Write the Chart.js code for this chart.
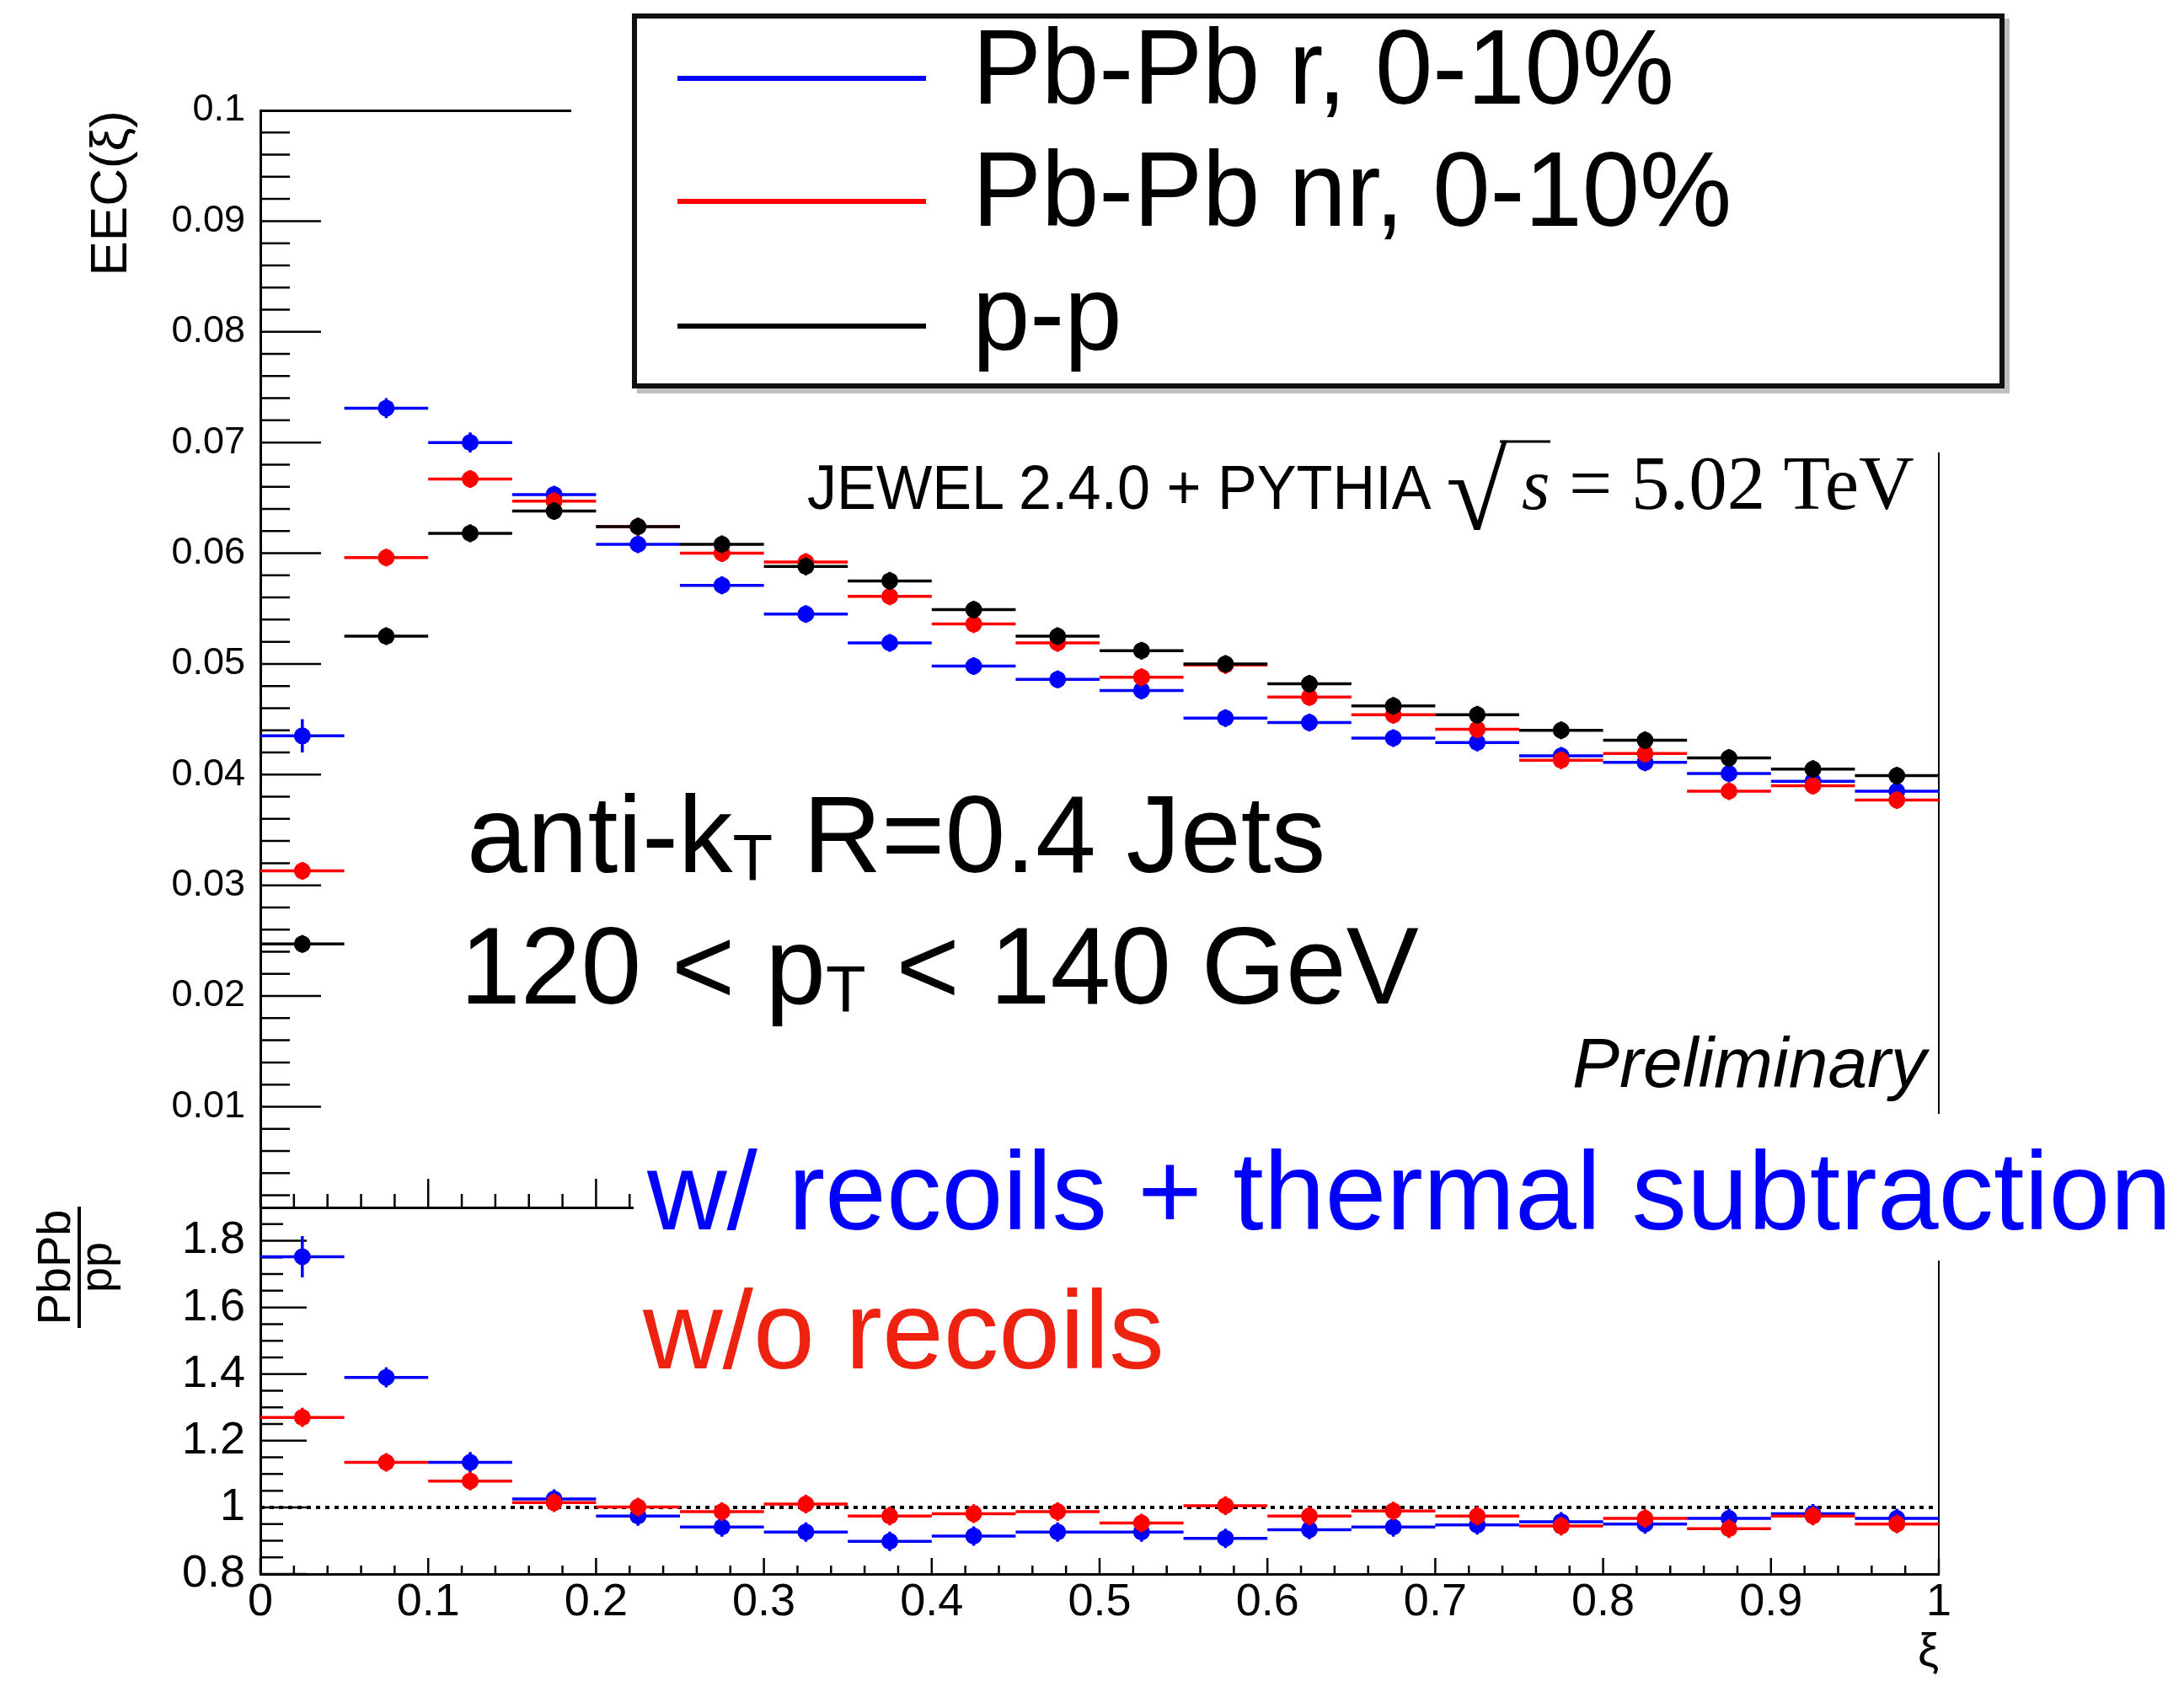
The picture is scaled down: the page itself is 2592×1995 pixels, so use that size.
<!DOCTYPE html>
<html lang="en">
<head>
<meta charset="UTF-8" />
<title>EEC(ξ) JEWEL Pb-Pb / p-p</title>
<script src="https://cdn.jsdelivr.net/npm/chart.js"></script>
<style>
  html, body { margin: 0; padding: 0; background: #fff; }
  #page { position: relative; width: 2592px; height: 1995px; overflow: hidden; background: #fff; }
  canvas { position: absolute; left: 0; }
  #topChart { top: 0; }
  #ratioChart { top: 1400px; }
  #notes { position: absolute; left: 0; top: 0; }
</style>
</head>
<body>
<div id="page">
  <canvas id="topChart" width="2592" height="1445"></canvas>
  <canvas id="ratioChart" width="2592" height="595"></canvas>

  <!-- pasted annotations (legend box, labels) on top of the ROOT-style plot -->
  <svg id="notes" width="2592" height="1995" xmlns="http://www.w3.org/2000/svg"
       font-family="'Liberation Sans', Arial, Helvetica, sans-serif">
    <rect x="678" y="0" width="1742" height="537" fill="#fff"/>
    <rect x="759" y="25" width="1623" height="439" fill="none" stroke="#000" stroke-opacity="0.25" stroke-width="6"/>
    <rect x="753" y="19" width="1623" height="439" fill="#fff" stroke="#111" stroke-width="6"/>
    <line x1="804" y1="93" x2="1099" y2="93" stroke="#0000ff" stroke-width="6"/>
    <line x1="804" y1="239" x2="1099" y2="239" stroke="#ff0000" stroke-width="6"/>
    <line x1="804" y1="387" x2="1099" y2="387" stroke="#000" stroke-width="6"/>
    <g transform="translate(1154,0) scale(0.975,1)" font-size="126">
      <text x="0" y="123">Pb-Pb r, 0-10%</text>
      <text x="0" y="268">Pb-Pb nr, 0-10%</text>
      <text x="0" y="415">p-p</text>
    </g>

    <g transform="translate(958,604) scale(0.936,1)"><text font-size="75">JEWEL 2.4.0 + PYTHIA</text></g>
    <text x="1716" y="628" font-family="'Liberation Serif', 'Times New Roman', serif" font-size="133">√</text>
    <line x1="1780" y1="524" x2="1840" y2="524" stroke="#000" stroke-width="3"/>
    <text x="1806" y="604" font-family="'Liberation Serif', 'Times New Roman', serif" font-style="italic" font-size="86">s</text>
    <text x="1862" y="604" font-family="'Liberation Serif', 'Times New Roman', serif" font-size="91">= 5.02 TeV</text>

    <text x="1866" y="1290" font-size="84" font-style="italic">Preliminary</text>

    <text x="554" y="1035" font-size="129">anti-k<tspan font-size="78" dy="10">T</tspan><tspan dy="-10"> R=0.4 Jets</tspan></text>
    <text x="546" y="1191" font-size="129">120 &lt; p<tspan font-size="78" dy="10">T</tspan><tspan dy="-10"> &lt; 140 GeV</tspan></text>

    <rect x="752" y="1322" width="1840" height="174" fill="#fff"/>
    <text x="768" y="1459" font-size="131" fill="#0000ff">w/ recoils + thermal subtraction</text>
    <text x="763" y="1624" font-size="131" fill="#ee2211">w/o recoils</text>

    <g transform="translate(94,1504) rotate(-90)">
      <text x="0" y="-11" font-size="56" text-anchor="middle">PbPb</text>
      <line x1="-72" y1="0" x2="72" y2="0" stroke="#000" stroke-width="4"/>
      <text x="0" y="38" font-size="54" text-anchor="middle">pp</text>
    </g>
  </svg>
</div>

<script>
  // bins in xi (width 0.05)
  const binCenters = [0.025, 0.075, 0.125, 0.175, 0.225, 0.275, 0.325, 0.375, 0.425, 0.475,
                      0.525, 0.575, 0.625, 0.675, 0.725, 0.775, 0.825, 0.875, 0.925, 0.975];
  const binHalfWidth = 0.025;

  // EEC(xi), top pad
  const eeecPbPbR  = [0.0435, 0.0731, 0.0700, 0.0653, 0.0608, 0.0571, 0.0545, 0.0519, 0.0498, 0.0486,
                      0.0476, 0.0451, 0.0447, 0.0433, 0.0429, 0.0417, 0.0411, 0.0401, 0.0394, 0.0385];
  const eeecPbPbNR = [0.0313, 0.0596, 0.0667, 0.0647, 0.0624, 0.0600, 0.0592, 0.0561, 0.0536, 0.0519,
                      0.0488, 0.0499, 0.0470, 0.0454, 0.0441, 0.0413, 0.0419, 0.0385, 0.0390, 0.0377];
  const eeecPP     = [0.0247, 0.0525, 0.0618, 0.0638, 0.0624, 0.0608, 0.0588, 0.0575, 0.0549, 0.0525,
                      0.0512, 0.0500, 0.0482, 0.0462, 0.0454, 0.0440, 0.0431, 0.0415, 0.0405, 0.0399];
  const errPbPbR   = [0.0015, 0.0009, 0.0009, 0.0008, 0.0008, 0.0008, 0.0008, 0.0008, 0.0008, 0.0008,
                      0.0008, 0.0008, 0.0008, 0.0008, 0.0008, 0.0008, 0.0008, 0.0008, 0.0008, 0.0008];
  const errPbPbNR  = [0.0008, 0.0008, 0.0008, 0.0008, 0.0008, 0.0008, 0.0008, 0.0008, 0.0008, 0.0008,
                      0.0008, 0.0008, 0.0008, 0.0008, 0.0008, 0.0008, 0.0008, 0.0008, 0.0008, 0.0008];
  const errPP      = [0.0008, 0.0008, 0.0008, 0.0008, 0.0008, 0.0008, 0.0008, 0.0008, 0.0008, 0.0008,
                      0.0008, 0.0008, 0.0008, 0.0008, 0.0008, 0.0008, 0.0008, 0.0008, 0.0008, 0.0008];

  // PbPb / pp, bottom pad
  const ratioR     = [1.752, 1.390, 1.135, 1.025, 0.974, 0.941, 0.926, 0.898, 0.914, 0.926,
                      0.926, 0.907, 0.933, 0.941, 0.947, 0.957, 0.950, 0.967, 0.981, 0.967];
  const ratioNR    = [1.270, 1.135, 1.079, 1.014, 1.001, 0.987, 1.010, 0.974, 0.981, 0.987,
                      0.953, 1.005, 0.974, 0.989, 0.974, 0.944, 0.967, 0.936, 0.974, 0.950];
  const ratioErrR  = [0.062, 0.030, 0.031, 0.029, 0.029, 0.029, 0.029, 0.029, 0.029, 0.029,
                      0.029, 0.029, 0.029, 0.029, 0.029, 0.029, 0.029, 0.029, 0.029, 0.029];
  const ratioErrNR = [0.029, 0.028, 0.028, 0.028, 0.028, 0.028, 0.028, 0.028, 0.028, 0.028,
                      0.028, 0.028, 0.028, 0.028, 0.028, 0.028, 0.028, 0.028, 0.028, 0.028];

  // tick labels
  const yTicksTop   = [0.01, 0.02, 0.03, 0.04, 0.05, 0.06, 0.07, 0.08, 0.09, 0.1];
  const yTicksRatio = [0.8, 1.0, 1.2, 1.4, 1.6, 1.8];
  const xTicks      = [0, 0.1, 0.2, 0.3, 0.4, 0.5, 0.6, 0.7, 0.8, 0.9, 1];
  const unityLine   = [1, 1];

  const BLUE = '#0000ff', RED = '#ff0000', BLACK = '#000000';

  Chart.defaults.font.family = "'Liberation Sans', Arial, Helvetica, sans-serif";
  Chart.defaults.color = '#000';

  const toPoints = vals => binCenters.map((x, i) => ({ x: x, y: vals[i] }));

  // horizontal bin-width bars + vertical errors, ROOT "E" style
  const errorBars = {
    id: 'errorBars',
    beforeDatasetDraw(chart, args) {
      const ds = chart.data.datasets[args.index];
      if (!ds.yErr) return;
      const xs = chart.scales.x, ys = chart.scales.y, c = chart.ctx;
      c.save();
      c.strokeStyle = ds.borderColor;
      c.lineWidth = 3.5;
      c.beginPath();
      ds.data.forEach((p, i) => {
        const px = xs.getPixelForValue(p.x), py = ys.getPixelForValue(p.y);
        c.moveTo(xs.getPixelForValue(p.x - binHalfWidth), py);
        c.lineTo(xs.getPixelForValue(p.x + binHalfWidth), py);
        c.moveTo(px, ys.getPixelForValue(p.y - ds.yErr[i]));
        c.lineTo(px, ys.getPixelForValue(p.y + ds.yErr[i]));
      });
      c.stroke();
      c.restore();
    }
  };

  // ticks pointing into the frame, major + minor
  const rootTicks = {
    id: 'rootTicks',
    beforeDatasetsDraw(chart, args, o) {
      const { ctx, chartArea: a, scales: { x, y } } = chart;
      const isMajor = (v, step) => Math.abs(v / step - Math.round(v / step)) < 1e-6;
      ctx.save();
      ctx.strokeStyle = '#000';
      ctx.lineWidth = 2.5;
      ctx.beginPath();
      for (let k = 0; ; k++) {
        const v = x.min + k * o.xMinor;
        if (v > x.max + 1e-9) break;
        const px = x.getPixelForValue(v);
        const len = isMajor(v, o.xMajor) ? o.xMajLen : o.xMinLen;
        ctx.moveTo(px, a.bottom);
        ctx.lineTo(px, a.bottom - len);
      }
      for (let k = 0; ; k++) {
        const v = o.yStart + k * o.yMinor;
        if (v > y.max - 1e-9) break;
        const py = y.getPixelForValue(v);
        const len = isMajor(v, o.yMajor) ? o.yMajLen : o.yMinLen;
        ctx.moveTo(a.left, py);
        ctx.lineTo(a.left + len, py);
      }
      ctx.stroke();
      ctx.restore();
    }
  };

  const markerStyle = color => ({
    borderColor: color, backgroundColor: color,
    pointRadius: 10, pointHoverRadius: 10, pointBorderWidth: 0
  });

  const frameAxis = (pos, width) => ({
    type: 'linear', position: pos, display: true,
    min: pos === 'top' ? 0 : undefined, max: pos === 'top' ? 1 : undefined,
    ticks: { display: false }, grid: { display: false, drawTicks: false },
    border: { display: true, color: '#000', width: width },
    afterFit: s => { if (pos === 'top') s.height = 0; else s.width = 0; s.paddingLeft = s.paddingRight = s.paddingTop = s.paddingBottom = 0; }
  });

  new Chart(document.getElementById('topChart'), {
    type: 'scatter',
    data: {
      datasets: [
        Object.assign({ label: 'p-p', data: toPoints(eeecPP), yErr: errPP }, markerStyle(BLACK)),
        Object.assign({ label: 'Pb-Pb nr, 0-10%', data: toPoints(eeecPbPbNR), yErr: errPbPbNR }, markerStyle(RED)),
        Object.assign({ label: 'Pb-Pb r, 0-10%', data: toPoints(eeecPbPbR), yErr: errPbPbR }, markerStyle(BLUE))
      ]
    },
    options: {
      responsive: false,
      animation: false,
      layout: { padding: { top: 131, right: 291, bottom: 12, left: 0 } },
      plugins: {
        legend: { display: false },
        tooltip: { enabled: false },
        rootTicks: { xMinor: 0.02, xMajor: 0.1, xMajLen: 34, xMinLen: 16,
                     yStart: 0.002, yMinor: 0.002, yMajor: 0.01, yMajLen: 72, yMinLen: 35 }
      },
      scales: {
        x: {
          type: 'linear', min: 0, max: 1,
          ticks: { display: false }, grid: { display: false, drawTicks: false },
          border: { color: '#000', width: 3 },
          afterFit: s => { s.height = 0; s.paddingLeft = s.paddingRight = 0; }
        },
        y: {
          type: 'linear', min: 0.0009, max: 0.1,
          afterBuildTicks: s => { s.ticks = yTicksTop.map(v => ({ value: v })); },
          ticks: { font: { size: 45 }, color: '#000', padding: 18, callback: v => String(+v.toFixed(2)) },
          grid: { display: false, drawTicks: false },
          border: { color: '#000', width: 3 },
          title: { display: true, text: 'EEC(ξ)', align: 'end', color: '#000',
                   font: { size: 62 }, padding: { top: 96, bottom: 0 } },
          afterFit: s => { s.width = 309; s.paddingTop = s.paddingBottom = 0; }
        },
        xTop: frameAxis('top', 3),
        yRight: frameAxis('right', 2)
      }
    },
    plugins: [errorBars, rootTicks]
  });

  new Chart(document.getElementById('ratioChart'), {
    type: 'scatter',
    data: {
      datasets: [
        Object.assign({ label: 'w/o recoils', data: toPoints(ratioNR), yErr: ratioErrNR }, markerStyle(RED)),
        Object.assign({ label: 'w/ recoils', data: toPoints(ratioR), yErr: ratioErrR }, markerStyle(BLUE)),
        {
          type: 'line', label: 'unity', data: [{ x: 0, y: unityLine[0] }, { x: 1, y: unityLine[1] }],
          borderColor: '#000', borderWidth: 4, borderDash: [5, 6], pointRadius: 0, fill: false
        }
      ]
    },
    options: {
      responsive: false,
      animation: false,
      layout: { padding: { top: 33, right: 291, bottom: 0, left: 0 } },
      plugins: {
        legend: { display: false },
        tooltip: { enabled: false },
        rootTicks: { xMinor: 0.02, xMajor: 0.1, xMajLen: 19, xMinLen: 10,
                     yStart: 0.8, yMinor: 0.05, yMajor: 0.2, yMajLen: 55, yMinLen: 27 }
      },
      scales: {
        x: {
          type: 'linear', min: 0, max: 1,
          afterBuildTicks: s => { s.ticks = xTicks.map(v => ({ value: v })); },
          ticks: { font: { size: 54 }, color: '#000', padding: 2, maxRotation: 0, autoSkip: false,
                   callback: v => String(+v.toFixed(1)) },
          grid: { display: false, drawTicks: false },
          border: { color: '#000', width: 3 },
          title: { display: true, text: 'ξ', align: 'end', color: '#000',
                   font: { size: 56 }, padding: { top: 0, bottom: 0 } },
          afterFit: s => { s.height = 127; s.paddingLeft = s.paddingRight = 0; }
        },
        y: {
          type: 'linear', min: 0.8, max: 1.9,
          afterBuildTicks: s => { s.ticks = yTicksRatio.map(v => ({ value: v })); },
          ticks: { font: { size: 54 }, color: '#000', padding: 18, callback: v => String(+v.toFixed(1)) },
          grid: { display: false, drawTicks: false },
          border: { color: '#000', width: 3 },
          afterFit: s => { s.width = 309; s.paddingTop = s.paddingBottom = 0; }
        },
        xTop: frameAxis('top', 3),
        yRight: frameAxis('right', 2)
      }
    },
    plugins: [errorBars, rootTicks]
  });
</script>
</body>
</html>
